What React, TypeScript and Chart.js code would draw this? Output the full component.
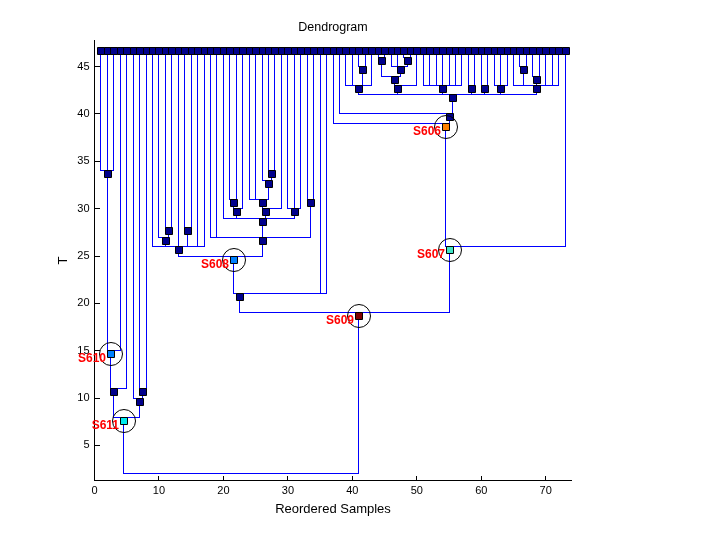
import React, { useEffect, useRef } from "react";
import { Chart, registerables } from "chart.js";

Chart.register(...registerables);

// ---------------- data ----------------
const LEAF_COUNT = 73;
const LEAF_T = 47;

const nodeNames = [
  "A", "S610", "B", "C", "D", "S611",
  "E", "F", "G", "H",
  "I", "J", "K", "L", "M", "N", "O", "P", "Q", "R",
  "S608", "U",
  "V1", "V2", "V3", "V4", "V5", "V6", "V7", "V8", "V9", "V10", "V11", "V12", "V13", "V14",
  "V", "W", "S606", "S607", "S609", "ROOT",
];
const nodeHeights = [
  34, 15, 11, 11, 10, 8,
  28, 27, 28, 26,
  34, 33, 31, 30, 31, 30, 30, 29, 31, 27,
  25, 21,
  45, 43, 46, 46, 45, 44, 43, 43, 43, 43, 43, 45, 44, 43,
  42, 40, 39, 26, 19, 2,
];
const nodeChildren: (number | string)[][] = [
  [1, 2, 3], ["A", 4], ["S610", 5], [7, 8], [6, "C"], ["B", "D"],
  [11, 12], [10, "E"], [14, 15], [9, "F", 13, "G", 16, 17],
  [27, 28], [26, "I"], [24, 25, "J"], ["K", 29], [21, 22], ["M", 23], [30, 31, 32], [20, "N", "L", "O"], [33, 34], [18, 19, "P", "Q"],
  ["H", "R"], ["S608", 35, 36],
  [41, 42], [39, 40, "V1", 43], [44, 45], [48, 49], [46, 47, "V4"], ["V3", "V5"], ["V6", 50],
  [51, 52, 53, 54, 55, 56, 57], [58, 59], [60, 61], [62, 63, 64], [66, 67], [68, 69], [65, "V12", "V13", 70, 71, 72],
  ["V2", "V7", "V8", "V9", "V10", "V11", "V14"], [38, "V"], [37, "W"], ["S606", 73], ["U", "S607"], ["S611", "S609"],
];
const hiddenNodes = ["ROOT"];
const highlightNames = ["S606", "S607", "S608", "S609", "S610", "S611"];
const highlightColors = [
  "rgb(255,128,0)", "rgb(64,230,200)", "rgb(0,128,255)", "rgb(128,0,0)", "rgb(0,128,255)", "rgb(0,235,240)",
];
const xTickValues = [0, 10, 20, 30, 40, 50, 60, 70];
const yTickValues = [5, 10, 15, 20, 25, 30, 35, 40, 45];
const xRange = [0, 74];
const yRange = [1.3, 47.75];

const TITLE = "Dendrogram";
const X_LABEL = "Reordered Samples";
const Y_LABEL = "T";

// ---------------- styles ----------------
const FONT = "'Liberation Sans', Arial, Helvetica, sans-serif";
const LINE_COLOR = "rgb(0,0,255)";
const NODE_COLOR = "rgb(0,0,140)";
const LABEL_COLOR = "rgb(255,0,0)";

type P = { x: number; y: number };
type NodeInfo = { x: number; t: number; leaves: number[] };

function buildTree() {
  const info = new Map<string, NodeInfo>();
  const resolve = (c: number | string): NodeInfo =>
    typeof c === "number" ? { x: c, t: LEAF_T, leaves: [c] } : (info.get(c) as NodeInfo);
  const segs: P[] = [];
  nodeNames.forEach((name, i) => {
    const kids = nodeChildren[i].map(resolve);
    const leaves = kids.flatMap((k) => k.leaves);
    const x = leaves.reduce((s, v) => s + v, 0) / leaves.length;
    const t = nodeHeights[i];
    info.set(name, { x, t, leaves });
    const xs = kids.map((k) => k.x);
    segs.push({ x: Math.min(...xs), y: t }, { x: Math.max(...xs), y: t }, { x: NaN, y: NaN });
    kids.forEach((k) => segs.push({ x: k.x, y: k.t }, { x: k.x, y: t }, { x: NaN, y: NaN }));
  });

  const squares: P[] = [];
  const squareColors: string[] = [];
  for (let i = 1; i <= LEAF_COUNT; i++) {
    squares.push({ x: i, y: LEAF_T });
    squareColors.push(NODE_COLOR);
  }
  nodeNames.forEach((name) => {
    if (hiddenNodes.includes(name)) return;
    const n = info.get(name) as NodeInfo;
    squares.push({ x: n.x, y: n.t });
    const h = highlightNames.indexOf(name);
    squareColors.push(h >= 0 ? highlightColors[h] : NODE_COLOR);
  });

  const circles: P[] = highlightNames.map((name) => {
    const n = info.get(name) as NodeInfo;
    return { x: n.x, y: n.t };
  });
  return { segs, squares, squareColors, circles };
}

// Snap the scale-computed element positions onto the pixel grid (crisp 1px lines).
const snapPlugin = {
  id: "snapPixels",
  afterDatasetsUpdate(chart: any) {
    chart.data.datasets.forEach((ds: any, i: number) => {
      const meta = chart.getDatasetMeta(i);
      meta.data.forEach((el: any) => {
        if (!isFinite(el.x) || !isFinite(el.y)) return;
        if (ds.snapKind === "line") {
          el.x = Math.floor(el.x) + 0.5;
          el.y = Math.floor(el.y) + 0.5;
        } else {
          // markers hang just below their node level
          el.x = Math.floor(el.x) + 1;
          el.y = Math.floor(el.y) + 4;
        }
      });
    });
  },
};

const decorPlugin = {
  id: "decor",
  afterDraw(chart: any) {
    const ctx = chart.ctx as CanvasRenderingContext2D;
    const { left, right, top, bottom } = chart.chartArea;
    const xs = chart.scales.x;
    const ys = chart.scales.y;
    ctx.save();
    ctx.setLineDash([]);
    // inward tick marks
    ctx.strokeStyle = "#000";
    ctx.lineWidth = 1;
    ctx.beginPath();
    xTickValues.forEach((v) => {
      const px = Math.floor(xs.getPixelForValue(v)) + 0.5;
      ctx.moveTo(px, Math.floor(bottom) + 1);
      ctx.lineTo(px, Math.floor(bottom) - 4);
    });
    yTickValues.forEach((v) => {
      const py = Math.floor(ys.getPixelForValue(v)) + 0.5;
      ctx.moveTo(Math.floor(left), py);
      ctx.lineTo(Math.floor(left) + 6, py);
    });
    ctx.stroke();

    // titles
    ctx.fillStyle = "#000";
    ctx.textAlign = "center";
    ctx.textBaseline = "alphabetic";
    const cx = (left + right) / 2;
    ctx.font = `12.5px ${FONT}`;
    ctx.fillText(TITLE, cx, top - 10);
    ctx.font = `13px ${FONT}`;
    ctx.fillText(X_LABEL, cx, bottom + 32);
    ctx.save();
    ctx.translate(67, (top + bottom) / 2);
    ctx.rotate(-Math.PI / 2);
    ctx.fillText(Y_LABEL, 0, 0);
    ctx.restore();

    // highlight labels
    const meta = chart.getDatasetMeta(0);
    ctx.font = `bold 12px ${FONT}`;
    ctx.fillStyle = LABEL_COLOR;
    ctx.textAlign = "right";
    meta.data.forEach((el: any, i: number) => {
      ctx.fillText(highlightNames[i], el.x - 5, el.y + 8);
    });
    ctx.restore();
  },
};

export default function App() {
  const ref = useRef<HTMLCanvasElement>(null);
  useEffect(() => {
    const { segs, squares, squareColors, circles } = buildTree();
    const tickFont = { family: FONT, size: 11 };
    const chart = new Chart(ref.current as HTMLCanvasElement, {
      type: "scatter",
      data: {
        datasets: [
          {
            data: circles,
            pointStyle: "circle",
            pointRadius: 11.5,
            pointBackgroundColor: "rgba(0,0,0,0)",
            pointBorderColor: "#000",
            pointBorderWidth: 1,
            showLine: false,
            snapKind: "marker",
          } as any,
          {
            data: squares,
            pointStyle: "rect",
            pointRadius: 3.5 / Math.SQRT1_2,
            pointBackgroundColor: squareColors,
            pointBorderColor: "#000",
            pointBorderWidth: 1,
            showLine: false,
            snapKind: "marker",
          } as any,
          {
            data: segs,
            showLine: true,
            spanGaps: false,
            borderColor: LINE_COLOR,
            backgroundColor: LINE_COLOR,
            borderWidth: 1,
            borderCapStyle: "square",
            borderJoinStyle: "miter",
            pointRadius: 0,
            tension: 0,
            snapKind: "line",
          } as any,
        ],
      },
      options: {
        animation: false,
        responsive: false,
        devicePixelRatio: 1,
        events: [],
        layout: { padding: { top: 40.5, right: 148.5, left: 0, bottom: 0 } },
        plugins: { legend: { display: false }, tooltip: { enabled: false }, title: { display: false } },
        scales: {
          x: {
            type: "linear",
            min: xRange[0],
            max: xRange[1],
            grid: { display: false, drawTicks: false },
            border: { display: true, color: "#000", width: 1 },
            ticks: { color: "#000", font: tickFont, padding: 4, maxRotation: 0 },
            afterBuildTicks: (s: any) => {
              s.ticks = xTickValues.map((v) => ({ value: v }));
            },
            afterFit: (s: any) => {
              s.height = 59.5;
            },
          },
          y: {
            type: "linear",
            min: yRange[0],
            max: yRange[1],
            grid: { display: false, drawTicks: false },
            border: { display: true, color: "#000", width: 1 },
            ticks: { color: "#000", font: tickFont, padding: 5 },
            afterBuildTicks: (s: any) => {
              s.ticks = yTickValues.map((v) => ({ value: v }));
            },
            afterFit: (s: any) => {
              s.width = 94.5;
            },
          },
        },
      },
      plugins: [snapPlugin, decorPlugin],
    } as any);
    return () => chart.destroy();
  }, []);
  return (
    <div style={{ position: "absolute", left: 0, top: 0, width: 720, height: 540, background: "#fff" }}>
      <canvas ref={ref} width={720} height={540} style={{ width: 720, height: 540, display: "block" }} />
    </div>
  );
}
